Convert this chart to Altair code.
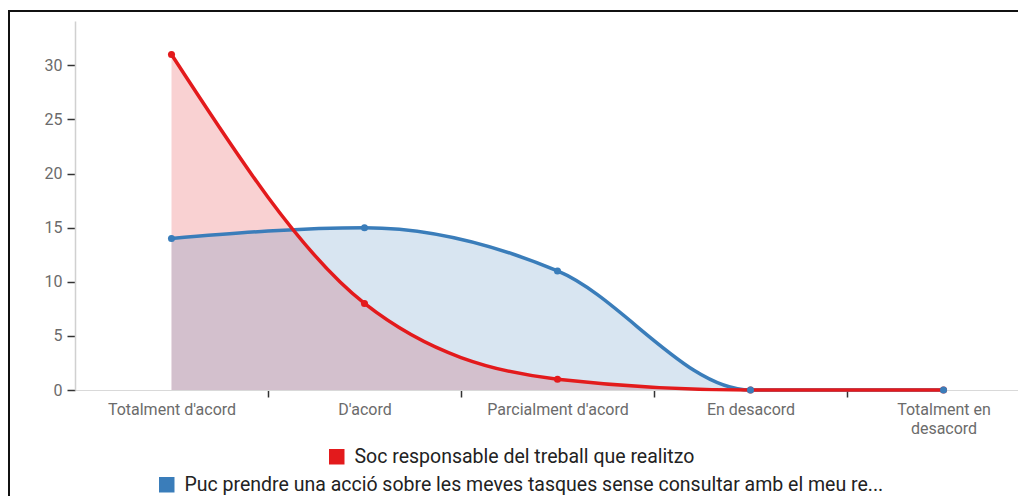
import altair as alt
import pandas as pd

categories = ["Totalment d'acord", "D'acord", "Parcialment d'acord", "En desacord", "Totalment en desacord"]
series_red = "Soc responsable del treball que realitzo"
series_blue = "Puc prendre una acció sobre les meves tasques sense consultar amb el meu re..."
values_red = [31, 8, 1, 0, 0]
values_blue = [14, 15, 11, 0, 0]
y_ticks = [0, 5, 10, 15, 20, 25, 30]

RED = "#e31a1c"
BLUE = "#3a7dba"
FONT = "Roboto"

df_red = pd.DataFrame({"cat": categories, "val": values_red, "series": series_red})
df_blue = pd.DataFrame({"cat": categories, "val": values_blue, "series": series_blue})

x_enc = alt.X(
    "cat:N",
    sort=categories,
    scale=alt.Scale(type="point", padding=0.5, range=[0, 965]),
    axis=alt.Axis(
        title=None,
        domainColor="#d9d9d9",
        domainWidth=1,
        tickColor="#333333",
        tickSize=7,
        tickWidth=1.5,
        tickOffset=96.5,
        labelOffset=-96.5,
        labelPadding=4,
        labelFont=FONT,
        labelFontSize=16,
        labelColor="#6b6b6b",
        labelAngle=0,
        labelLimit=300,
        labelLineHeight=19,
        labelExpr="datum.label == 'Totalment en desacord' ? ['Totalment en', 'desacord'] : datum.label",
    ),
)
y_scale = alt.Scale(domain=[0, 34.1], nice=False, zero=True)
y_enc = alt.Y(
    "val:Q",
    scale=y_scale,
    axis=alt.Axis(
        title=None,
        values=y_ticks,
        grid=False,
        domainColor="#d0d0d0",
        domainWidth=1.5,
        tickColor="#333333",
        tickSize=8,
        tickWidth=1.5,
        labelPadding=5,
        labelFont=FONT,
        labelFontSize=16,
        labelColor="#6b6b6b",
    ),
)

# decorative outer frame (top and left edges only; right/bottom fall outside the picture)
frame_data = pd.DataFrame({"a": [0]})
frame_top = alt.Chart(frame_data).mark_rect(color="#111111", strokeWidth=0).encode(
    x=alt.value(-67), x2=alt.value(943), y=alt.value(-11), y2=alt.value(-9)
)
frame_left = alt.Chart(frame_data).mark_rect(color="#111111", strokeWidth=0).encode(
    x=alt.value(-67), x2=alt.value(-65), y=alt.value(-11), y2=alt.value(475)
)

area_r = alt.Chart(df_red).mark_area(interpolate="monotone", color=RED, opacity=0.2).encode(x=x_enc, y=y_enc)
area_b = alt.Chart(df_blue).mark_area(interpolate="monotone", color=BLUE, opacity=0.2).encode(x=x_enc, y=y_enc)
line_b = alt.Chart(df_blue).mark_line(interpolate="monotone", color=BLUE, strokeWidth=3.5).encode(x=x_enc, y=y_enc)
line_r = alt.Chart(df_red).mark_line(interpolate="monotone", color=RED, strokeWidth=3.5).encode(x=x_enc, y=y_enc)


def legend(lx, ly):
    return alt.Legend(
        title=None,
        orient="none",
        legendX=lx,
        legendY=ly,
        padding=0,
        symbolType="square",
        symbolSize=240,
        symbolStrokeWidth=0,
        symbolOpacity=1,
        labelFont=FONT,
        labelFontSize=19.5,
        labelColor="#222222",
        labelOffset=8,
        labelLimit=0,
    )


pts_r = alt.Chart(df_red).mark_point(filled=True, size=50, opacity=1).encode(
    x=x_enc,
    y=y_enc,
    color=alt.Color("series:N", scale=alt.Scale(domain=[series_red], range=[RED]), legend=legend(252, 426)),
)
pts_b = alt.Chart(df_blue).mark_point(filled=True, size=50, opacity=1).encode(
    x=x_enc,
    y=y_enc,
    color=alt.Color("series:N", scale=alt.Scale(domain=[series_blue], range=[BLUE]), legend=legend(82, 454)),
)

chart = (
    alt.layer(frame_top, frame_left, area_r, area_b, line_b, line_r, pts_r, pts_b)
    .resolve_scale(color="independent")
    .properties(
        width=943,
        height=369,
        autosize=alt.AutoSizeParams(type="none"),
        padding={"left": 67, "top": 13, "right": 0, "bottom": 106},
        background="white",
    )
    .configure_view(stroke=None)
)

chart.save("out.html", embed_options={"renderer": "svg", "actions": False})
